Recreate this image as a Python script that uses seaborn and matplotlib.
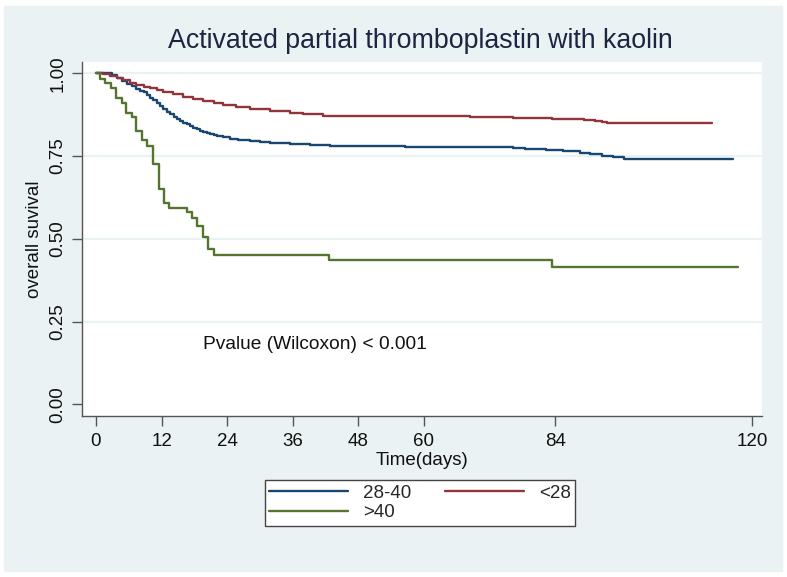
import pandas as pd
import matplotlib
matplotlib.use("Agg")
import matplotlib.pyplot as plt
from matplotlib.patches import Rectangle
from matplotlib.lines import Line2D
import seaborn as sns

# Kaplan-Meier step points (time in days, survival after the step)
time_28_40 = [0, 3.0, 3.8, 4.7, 5.6, 6.5, 7.4, 8.0, 8.7, 9.3, 9.9, 10.5, 11.1, 11.7,
              12.3, 12.9, 13.5, 14.2, 14.8, 15.4, 16.0, 16.6, 17.2, 17.8, 18.4, 19.0,
              19.6, 20.3, 20.9, 21.5, 22.1, 23.3, 24.5, 26.0, 28.2, 30.0, 31.8, 35.5,
              39.1, 42.8, 56.6, 76.3, 78.5, 82.4, 85.5, 88.5, 90.3, 92.5, 94.6, 96.5,
              116.6]
surv_28_40 = [1.0, 0.995, 0.987, 0.977, 0.967, 0.960, 0.952, 0.947, 0.942, 0.934, 0.926,
              0.918, 0.911, 0.901, 0.891, 0.883, 0.876, 0.868, 0.861, 0.856, 0.851, 0.846,
              0.841, 0.836, 0.831, 0.827, 0.823, 0.819, 0.816, 0.813, 0.811, 0.806, 0.802,
              0.799, 0.795, 0.791, 0.788, 0.785, 0.782, 0.780, 0.777, 0.773, 0.770, 0.767,
              0.764, 0.760, 0.756, 0.751, 0.746, 0.742, 0.742]

time_lt28 = [0, 1.3, 2.6, 3.8, 5.0, 6.2, 7.4, 8.7, 9.9, 11.1, 12.3, 14.1, 16.0, 17.8,
             19.6, 21.5, 23.3, 25.7, 28.2, 31.8, 35.5, 37.9, 41.6, 68.4, 76.3, 83.4,
             89.3, 91.3, 92.5, 93.4, 112.6]
surv_lt28 = [1.0, 0.997, 0.992, 0.987, 0.980, 0.972, 0.964, 0.959, 0.954, 0.950, 0.944,
             0.936, 0.929, 0.923, 0.917, 0.911, 0.905, 0.899, 0.893, 0.887, 0.881, 0.876,
             0.871, 0.868, 0.866, 0.863, 0.860, 0.857, 0.854, 0.850, 0.850]

time_gt40 = [0, 0.7, 1.65, 2.7, 3.7, 4.7, 5.5, 6.5, 7.4, 8.4, 9.4, 10.4, 11.6, 12.4,
             13.4, 16.6, 17.5, 18.5, 19.5, 20.5, 21.5, 42.7, 83.5, 117.4]
surv_gt40 = [1.0, 0.984, 0.970, 0.954, 0.926, 0.911, 0.881, 0.869, 0.826, 0.799, 0.781,
             0.725, 0.650, 0.609, 0.594, 0.581, 0.564, 0.539, 0.506, 0.470, 0.450, 0.436,
             0.415, 0.415]

groups = ["28-40", "<28", ">40"]
colors = {"28-40": "#1a476f", "<28": "#90353b", ">40": "#55752f"}
x_ticks = [0, 12, 24, 36, 48, 60, 84, 120]
y_ticks = [0.0, 0.25, 0.50, 0.75, 1.00]

df = pd.concat([
    pd.DataFrame({"time": time_28_40, "survival": surv_28_40, "group": "28-40"}),
    pd.DataFrame({"time": time_lt28, "survival": surv_lt28, "group": "<28"}),
    pd.DataFrame({"time": time_gt40, "survival": surv_gt40, "group": ">40"}),
], ignore_index=True)

sns.set_theme(style="white")
plt.rcParams["font.family"] = ["Liberation Sans", "DejaVu Sans"]

fig = plt.figure(figsize=(7.87, 5.77), dpi=100, facecolor="white")
bg = "#eaf2f3"
fig.patches.append(Rectangle((4 / 787, 1 - 571 / 577), 778 / 787, 565 / 577,
                             transform=fig.transFigure, color=bg, zorder=-10))

ax = fig.add_axes([82 / 787, 1 - 416 / 577, 680 / 787, 354 / 577])
ax.set_facecolor("white")

for lvl in y_ticks[1:]:
    ax.axhline(lvl, color=bg, linewidth=1.6, zorder=0)

sns.lineplot(data=df, x="time", y="survival", hue="group", hue_order=groups,
             palette=colors, drawstyle="steps-post", estimator=None,
             linewidth=1.7, legend=False, ax=ax)

ax.set_xlim(-2.56, 121.83)
ax.set_ylim(-0.0353, 1.034)
ax.set_xticks(x_ticks)
ax.set_yticks(y_ticks)
ax.set_yticklabels([f"{v:.2f}" for v in y_ticks], rotation=90, va="center")

for side in ["top", "right"]:
    ax.spines[side].set_visible(False)
for side in ["left", "bottom"]:
    ax.spines[side].set_color("#555555")
    ax.spines[side].set_linewidth(1.0)

ax.tick_params(axis="both", direction="out", length=7, width=1.0, color="#555555",
               labelsize=13.5, labelcolor="#111111", left=True, bottom=True)
ax.tick_params(axis="x", pad=5)
ax.tick_params(axis="y", pad=4)

ax.set_xlabel("Time(days)", fontsize=13.5, color="#111111", labelpad=2)
ax.set_ylabel("overall suvival", fontsize=13.5, color="#111111", labelpad=5)

ax.text(19.6, 0.182, "Pvalue (Wilcoxon) < 0.001", fontsize=13.8, color="#111111",
        va="center", ha="left")

fig.text(420 / 787, 1 - 41 / 577, "Activated partial thromboplastin with kaolin",
         fontsize=19.3, color="#1c2541", ha="center", va="center")

handles = {g: Line2D([], [], color=colors[g], linewidth=1.7) for g in groups}
order = ["28-40", ">40", "<28"]
leg = fig.legend([handles[g] for g in order], order, ncol=2, loc="center",
                 bbox_to_anchor=(420 / 787, 1 - 503 / 577), fontsize=13.5,
                 frameon=True, fancybox=False, edgecolor="#444444",
                 facecolor="white", framealpha=1, handlelength=4.2,
                 columnspacing=1.8, labelspacing=0.12, borderpad=0.24,
                 handletextpad=0.8)
leg.get_frame().set_linewidth(1.0)

fig.savefig("out.png", dpi=100, facecolor="white")
